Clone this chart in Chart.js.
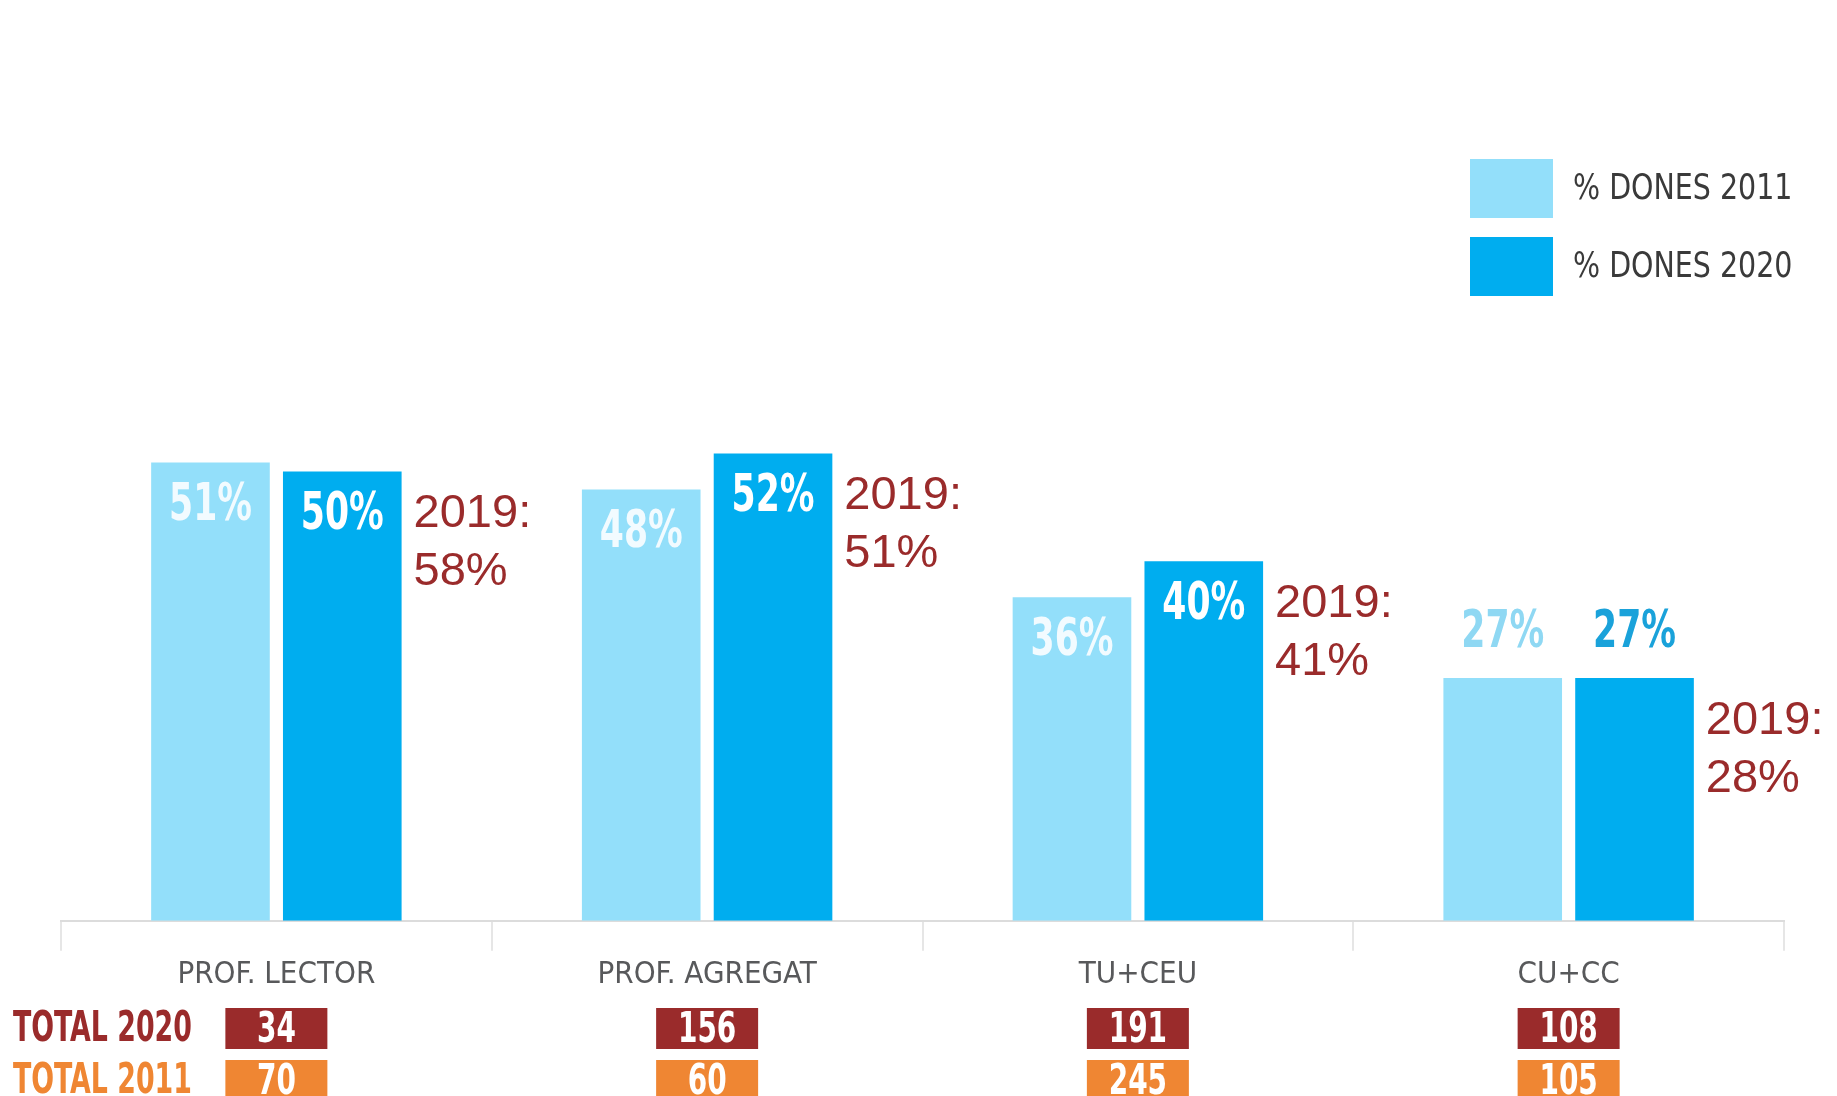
<!DOCTYPE html>
<html>
<head>
<meta charset="utf-8">
<script src="https://cdn.jsdelivr.net/npm/chart.js@4/dist/chart.umd.min.js"></script>
<style>
  html, body { margin: 0; padding: 0; background: #fff; }
  #chart { display: block; }
</style>
</head>
<body>
<canvas id="chart" width="1837" height="1096"></canvas>
<script>
// ------------- DATA -------------
const categories = ['PROF. LECTOR', 'PROF. AGREGAT', 'TU+CEU', 'CU+CC'];
const pct2011 = [51, 48, 36, 27];
const pct2020 = [50, 52, 40, 27];
const pct2019 = [58, 51, 41, 28];
const total2020 = [34, 156, 191, 108];
const total2011 = [70, 60, 245, 105];
const legendLabels = ['% DONES 2011', '% DONES 2020'];

// colours / fonts
const LIGHT = '#93dffa';
const DARK = '#00adef';
const RED = '#9a2b2b';
const ORANGE = '#ef8633';
const NARROW = '"Liberation Sans Narrow", "DejaVu Sans Condensed", sans-serif';
const ARIAL = '"Liberation Sans", Arial, sans-serif';

// draw text squeezed horizontally (the original uses a condensed face)
function squeezed(ctx, text, x, y, sx){
  ctx.save();
  ctx.translate(x, y);
  ctx.scale(sx, 1);
  ctx.fillText(text, 0, 0);
  ctx.restore();
}

// value labels on the bars (inside, or above when the bar is short)
const barLabels = {
  id: 'barLabels',
  afterDatasetsDraw(chart){
    const ctx = chart.ctx;
    ctx.save();
    ctx.font = `bold 52px ${NARROW}`;
    ctx.textAlign = 'center';
    ctx.textBaseline = 'middle';
    chart.data.datasets.forEach((ds, di) => {
      chart.getDatasetMeta(di).data.forEach((bar, i) => {
        const v = ds.data[i];
        let y, color;
        if (v < 30) {
          y = bar.y - 45;
          color = di === 0 ? '#8fd8f3' : '#1aa2da';
        } else {
          y = bar.y + 44;
          color = di === 0 ? '#f2fbff' : '#ffffff';
        }
        ctx.fillStyle = color;
        squeezed(ctx, v + '%', bar.x, y, 0.74);
      });
    });

    // "2019: xx%" notes next to the 2020 bar
    ctx.font = `47px ${ARIAL}`;
    ctx.textAlign = 'left';
    ctx.textBaseline = 'alphabetic';
    ctx.fillStyle = RED;
    chart.getDatasetMeta(1).data.forEach((bar, i) => {
      const x = bar.x + bar.width / 2 + 12;
      const y = bar.y + 56;
      ctx.fillText('2019:', x, y);
      ctx.fillText(pct2019[i] + '%', x, y + 58);
    });
    ctx.restore();
  }
};

// legend + totals rows
const extras = {
  id: 'extras',
  afterDraw(chart){
    const ctx = chart.ctx;
    const xs = chart.scales.x;
    ctx.save();

    // legend
    const cols = [LIGHT, DARK];
    ctx.font = `36px ${NARROW}`;
    ctx.textBaseline = 'middle';
    ctx.textAlign = 'left';
    legendLabels.forEach((lab, i) => {
      const top = 159 + i * 78;
      ctx.fillStyle = cols[i];
      ctx.fillRect(1470, top, 83, 59);
      ctx.fillStyle = '#3a3a3a';
      squeezed(ctx, lab, 1573, top + 31, 0.88);
    });

    // totals
    const rows = [
      { label: 'TOTAL 2020', vals: total2020, color: RED, top: 1008 },
      { label: 'TOTAL 2011', vals: total2011, color: ORANGE, top: 1060 }
    ];
    rows.forEach(r => {
      ctx.font = `bold 42px ${NARROW}`;
      ctx.textAlign = 'left';
      ctx.fillStyle = r.color;
      squeezed(ctx, r.label, 13, r.top + 22, 0.71);
      r.vals.forEach((v, i) => {
        const cx = xs.getPixelForValue(i);
        ctx.fillStyle = r.color;
        ctx.fillRect(cx - 51, r.top, 102, 41);
        ctx.fillStyle = '#ffffff';
        ctx.textAlign = 'center';
        squeezed(ctx, String(v), cx, r.top + 23, 0.74);
        ctx.textAlign = 'left';
      });
    });
    ctx.restore();
  }
};

const chart = new Chart(document.getElementById('chart'), {
  type: 'bar',
  data: {
    labels: categories,
    datasets: [
      { label: legendLabels[0], data: pct2011, backgroundColor: LIGHT },
      { label: legendLabels[1], data: pct2020, backgroundColor: DARK }
    ]
  },
  options: {
    responsive: false,
    animation: false,
    events: [],
    categoryPercentage: 0.612,
    barPercentage: 0.9,
    layout: { padding: { top: 22, left: 61, right: 53, bottom: 96 } },
    plugins: { legend: { display: false }, tooltip: { enabled: false } },
    scales: {
      y: { display: false, min: 0, max: 100 },
      x: {
        border: { display: true, color: '#dcdcdc', width: 2 },
        grid: { drawOnChartArea: false, drawTicks: true, tickLength: 30, color: '#e6e6e6', lineWidth: 2 },
        ticks: { color: '#58595b', padding: 6, font: { family: NARROW, size: 31 } }
      }
    }
  },
  plugins: [barLabels, extras]
});
</script>
</body>
</html>
